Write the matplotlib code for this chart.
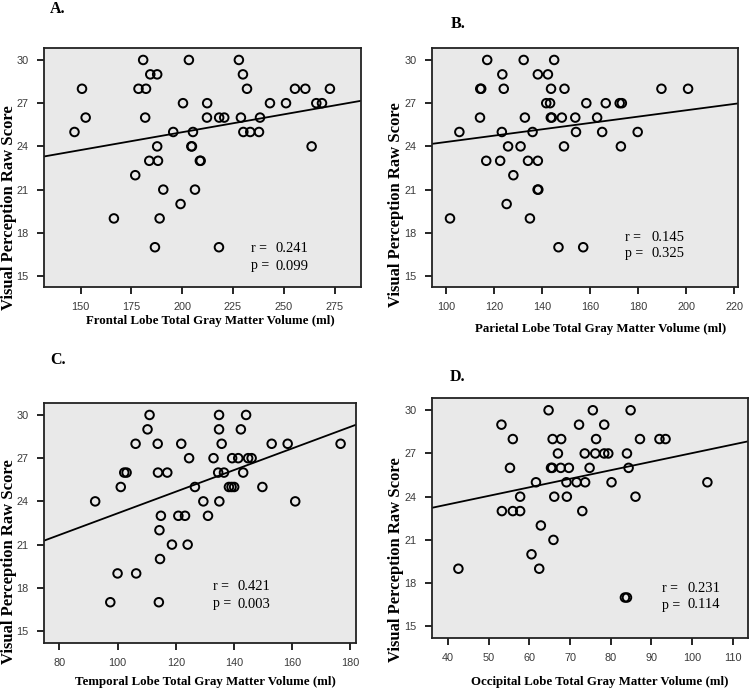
import matplotlib.pyplot as plt
import numpy as np

# visual perception raw score (y) and gray matter volume (x) for each lobe
frontal_x = [180.8, 203.3, 227.9, 184.3, 187.7, 229.9,
             150.7, 178.5, 182.2, 231.9, 255.5, 260.6, 272.7,
             200.4, 212.3, 243.2, 251.1, 266.0, 268.8,
             152.5, 181.8, 212.2, 218.2, 220.7, 228.9, 238.3,
             147.0, 195.6, 205.3, 230.1, 233.5, 237.8,
             187.7, 204.5, 204.8, 263.7,
             183.8, 188.1, 208.7, 209.1,
             176.9, 190.7, 206.3, 199.2, 166.4, 188.9, 186.6, 218.1]
frontal_y = [30, 30, 30, 29, 29, 29,
             28, 28, 28, 28, 28, 28, 28,
             27, 27, 27, 27, 27, 27,
             26, 26, 26, 26, 26, 26, 26,
             25, 25, 25, 25, 25, 25,
             24, 24, 24, 24,
             23, 23, 23, 23,
             22, 21, 21, 20, 19, 19, 17, 17]

parietal_x = [117.0, 132.2, 144.9, 123.3, 138.1, 142.3,
              114.1, 114.5, 123.9, 143.6, 149.2, 189.6, 200.7,
              141.6, 143.2, 158.3, 166.4, 172.2, 173.1,
              114.0, 132.7, 143.5, 143.9, 148.1, 153.7, 162.8,
              105.4, 123.1, 135.9, 154.0, 164.9, 179.7,
              125.7, 130.9, 149.0, 172.7,
              116.6, 122.4, 134.0, 138.1,
              127.9, 138.0, 138.3, 125.1, 101.5, 134.8, 146.7, 157.0]
parietal_y = [30, 30, 30, 29, 29, 29,
              28, 28, 28, 28, 28, 28, 28,
              27, 27, 27, 27, 27, 27,
              26, 26, 26, 26, 26, 26, 26,
              25, 25, 25, 25, 25, 25,
              24, 24, 24, 24,
              23, 23, 23, 23,
              22, 21, 21, 20, 19, 19, 17, 17]

temporal_x = [111.0, 134.9, 144.2, 110.3, 134.9, 142.4,
              106.2, 113.8, 121.9, 135.8, 153.0, 158.5, 176.7,
              124.6, 133.0, 139.4, 141.5, 144.9, 146.1,
              102.3, 103.1, 113.9, 117.1, 134.6, 136.6, 143.2,
              101.1, 126.6, 138.3, 139.2, 140.1, 149.8,
              92.3, 129.5, 135.0, 161.1,
              114.9, 120.9, 123.2, 131.1,
              114.4, 118.7, 124.1, 114.6, 100.0, 106.4, 97.5, 114.2]
temporal_y = [30, 30, 30, 29, 29, 29,
              28, 28, 28, 28, 28, 28, 28,
              27, 27, 27, 27, 27, 27,
              26, 26, 26, 26, 26, 26, 26,
              25, 25, 25, 25, 25, 25,
              24, 24, 24, 24,
              23, 23, 23, 23,
              22, 21, 21, 20, 19, 19, 17, 17]

occipital_x = [64.7, 75.6, 84.9, 53.1, 72.2, 78.4,
               55.9, 65.7, 67.8, 76.4, 87.2, 92.0, 93.5,
               67.0, 73.6, 76.2, 78.4, 79.4, 84.0,
               55.2, 65.3, 65.6, 67.7, 69.7, 74.8, 84.4,
               61.6, 69.1, 71.6, 73.7, 80.2, 103.8,
               57.7, 66.1, 69.2, 86.1,
               53.2, 55.9, 57.7, 73.0,
               62.8, 65.9, 60.5, 42.5, 62.4, 83.5, 84.0]
occipital_y = [30, 30, 30, 29, 29, 29,
               28, 28, 28, 28, 28, 28, 28,
               27, 27, 27, 27, 27, 27,
               26, 26, 26, 26, 26, 26, 26,
               25, 25, 25, 25, 25, 25,
               24, 24, 24, 24,
               23, 23, 23, 23,
               22, 21, 20, 19, 19, 17, 17]

x_titles = ["Frontal Lobe Total Gray Matter Volume (ml)",
            "Parietal Lobe Total Gray Matter Volume (ml)",
            "Temporal Lobe Total Gray Matter Volume (ml)",
            "Occipital Lobe Total Gray Matter Volume (ml)"]
letters = ["A.", "B.", "C.", "D."]
r_vals = ["0.241", "0.145", "0.421", "0.231"]
p_vals = ["0.099", "0.325", "0.003", "0.114"]
x_ticks = [[150, 175, 200, 225, 250, 275],
           [100, 120, 140, 160, 180, 200, 220],
           [80, 100, 120, 140, 160, 180],
           [40, 50, 60, 70, 80, 90, 100, 110]]
y_ticks = [15, 18, 21, 24, 27, 30]

W, H = 752, 693
fig = plt.figure(figsize=(W / 100, H / 100), dpi=100)

# axes boxes in pixels: left, right, top, bottom
boxes = [(44, 361, 48, 287), (432, 738, 48, 287),
         (44, 356, 403, 643), (432, 748, 398, 638)]
xlims = [(132, 288), (94, 221.5), (74.7, 182), (36, 113.8)]
ylims = [(14.24, 30.83), (14.24, 30.83), (14.17, 30.83), (14.19, 30.85)]
# letter pos, x-label pos, y-label pos, r text pos (px)
letter_pos = [(58, 9), (458, 24), (58, 360), (458, 377)]
xlab_pos = [(210, 321), (601, 329), (205, 682), (600, 682)]
ylab_pos = [(9, 208), (396, 205), (9, 562), (396, 560)]
r_pos = [(251, 249, 276), (625, 237, 651), (213, 587, 238), (662, 588, 688)]

data = [(frontal_x, frontal_y), (parietal_x, parietal_y),
        (temporal_x, temporal_y), (occipital_x, occipital_y)]

serif = "Liberation Serif"
sans = "Liberation Sans"

for i in range(4):
    l, r, t, b = boxes[i]
    ax = fig.add_axes([l / W, 1 - b / H, (r - l) / W, (b - t) / H])
    ax.set_facecolor("#e9e9e9")
    x = np.array(data[i][0])
    y = np.array(data[i][1])
    ax.scatter(x, y, s=38, facecolors="none", edgecolors="black", linewidths=1.4, zorder=3)
    slope, icept = np.polyfit(x, y, 1)
    xx = np.array(xlims[i])
    ax.plot(xx, icept + slope * xx, color="black", lw=1.3, zorder=2)
    ax.set_xlim(xlims[i])
    ax.set_ylim(ylims[i])
    ax.set_xticks(x_ticks[i])
    ax.set_yticks(y_ticks)
    for sp in ax.spines.values():
        sp.set_linewidth(1.3)
        sp.set_color("#222222")
    ax.tick_params(direction="out", length=5, width=1.2, labelsize=7.8,
                   labelcolor="#3a3a3a", pad=6)
    for lab in ax.get_xticklabels() + ax.get_yticklabels():
        lab.set_fontfamily(sans)

    fig.text(letter_pos[i][0] / W, 1 - letter_pos[i][1] / H, letters[i],
             fontfamily=serif, fontweight="bold", fontsize=11.5, ha="center", va="center")
    fig.text(xlab_pos[i][0] / W, 1 - xlab_pos[i][1] / H, x_titles[i],
             fontfamily=serif, fontweight="bold", fontsize=9.3, ha="center", va="center")
    fig.text(ylab_pos[i][0] / W, 1 - ylab_pos[i][1] / H, "Visual Perception Raw Score",
             fontfamily=serif, fontweight="bold", fontsize=12, rotation=90,
             ha="center", va="center")
    rx, ry, vx = r_pos[i]
    fig.text(rx / W, 1 - ry / H, "r =", fontfamily=serif, fontsize=10, va="center")
    fig.text(vx / W, 1 - ry / H, r_vals[i], fontfamily=serif, fontsize=10.5, va="center")
    fig.text(rx / W, 1 - (ry + 17) / H, "p =", fontfamily=serif, fontsize=10, va="center")
    fig.text(vx / W, 1 - (ry + 17) / H, p_vals[i], fontfamily=serif, fontsize=10.5, va="center")

fig.savefig("out.png", dpi=100)
